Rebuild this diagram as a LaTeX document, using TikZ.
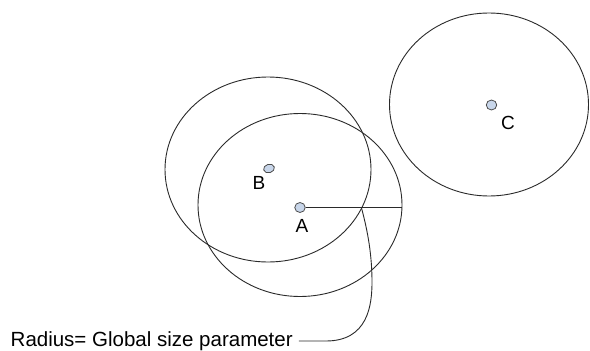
\documentclass[tikz,border=0pt]{standalone}
\usepackage{fontspec}
\setmainfont{Liberation Sans}
\usetikzlibrary{shapes.geometric}
\definecolor{dotfill}{HTML}{C8D6EA}
\definecolor{ink}{HTML}{2A2A2A}
\tikzset{
  zone/.style={draw=ink, line width=0.9pt, ellipse, inner sep=0pt},
  pt/.style={draw=ink!85, fill=dotfill, line width=0.8pt, ellipse, inner sep=0pt, minimum width=10.5pt, minimum height=10pt},
  lbl/.style={font=\fontsize{19}{21}\selectfont, text=black, inner sep=0pt},
  conn/.style={draw=ink, line width=0.9pt}
}
\begin{document}
\begin{tikzpicture}[x=1pt,y=-1pt]
\useasboundingbox (0,0) rectangle (590,351);
\node[zone, minimum width=206pt, minimum height=185pt] (ellB) at (268,169.5) {};
\node[zone, minimum width=204pt, minimum height=183pt] (ellA) at (300,205) {};
\node[zone, minimum width=199pt, minimum height=183pt] (ellC) at (489,104.5) {};
\node[pt] (dotA) at (300,207.5) {};
\node[pt, minimum width=11pt, minimum height=8.5pt, rotate=15] (dotB) at (269,168.5) {};
\node[pt] (dotC) at (491.5,105) {};
\node[lbl] (labA) at (302,226) {A};
\node[lbl] (labB) at (259,183) {B};
\node[lbl] (labC) at (508,122.5) {C};
\node[anchor=west, inner sep=0pt, font=\fontsize{20.5}{24}\selectfont] (radius) at (10.5,341) {Radius= Global size parameter};
\coordinate (cross) at (361.5,208);
\draw[conn] (dotA.east) -- (dotA.east -| ellA.east);
\draw[conn] ([xshift=6pt]radius.east) -- (326,341)
  .. controls (368,341) and (372,305) .. (372,282)
  .. controls (372,250) and (366,225) .. (cross);
\end{tikzpicture}
\end{document}
